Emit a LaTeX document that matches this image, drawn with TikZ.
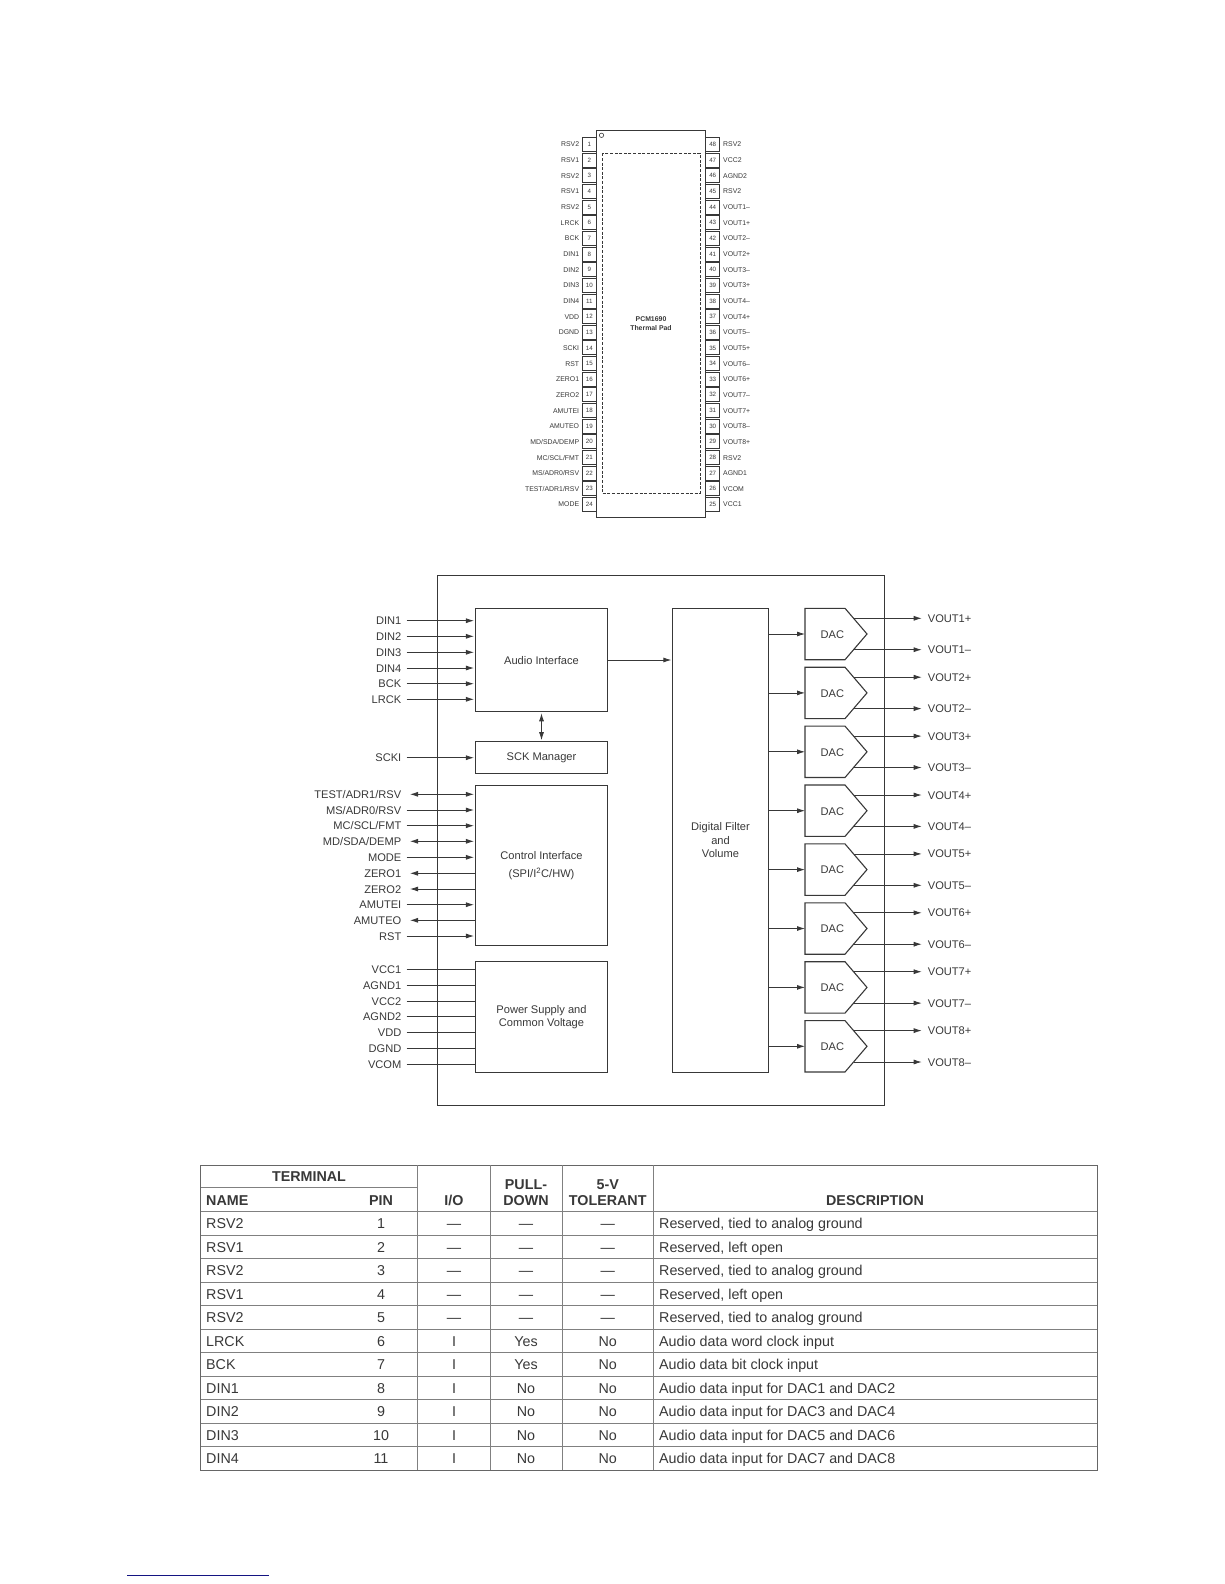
\documentclass[tikz,border=0pt]{standalone}
\usepackage{fontspec}
\setmainfont{Liberation Sans}
\usetikzlibrary{calc,arrows.meta}
\definecolor{ink}{gray}{0.22}
\definecolor{rule}{gray}{0.5}
\definecolor{ruledark}{gray}{0.4}
\newcommand{\fsChip}{\fontsize{6.9}{8}\selectfont}
\newcommand{\fsNum}{\fontsize{6.2}{8}\selectfont}
\newcommand{\fsBlk}{\fontsize{11.1}{13.5}\selectfont}
\newcommand{\fsTab}{\fontsize{14.3}{16}\selectfont}
\tikzset{
  every node/.style={text=ink},
  chipl/.style={inner sep=0pt,font=\fsChip,text height=5pt,text depth=0pt},
  pinbox/.style={draw=ink,line width=0.8pt,minimum width=14pt,minimum height=14pt,inner sep=0pt,font=\fsNum},
  blk/.style={draw=ink,line width=1.1pt,inner sep=0pt,align=center,font=\fsBlk},
  blkt/.style={inner sep=0pt,align=center,font=\fsBlk},
  sigl/.style={inner sep=0pt,font=\fsBlk,text height=8pt,text depth=0pt},
  sigin/.style={draw=ink,line width=0.8pt,-{Latex[length=8pt,width=5pt]},shorten >=0.8pt},
  sigout/.style={draw=ink,line width=0.8pt,{Latex[length=8pt,width=5pt]}-,shorten <=3.3pt},
  sigbi/.style={draw=ink,line width=0.8pt,{Latex[length=8pt,width=5pt]}-{Latex[length=8pt,width=5pt]},shorten <=3.3pt,shorten >=0.8pt},
  sigplain/.style={draw=ink,line width=0.8pt},
  tabt/.style={inner sep=0pt,font=\fsTab,anchor=base},
  tabl/.style={inner sep=0pt,font=\fsTab,anchor=base west},
  tabh/.style={inner sep=0pt,font=\fsTab\bfseries,anchor=base},
  tabhl/.style={inner sep=0pt,font=\fsTab\bfseries,anchor=base west},
  tabline/.style={draw=rule,line width=0.9pt}
}
\begin{document}
\begin{tikzpicture}[x=1pt,y=-1pt]
\useasboundingbox (0,0) rectangle (1224,1584);
% ---------- package drawing
\node[draw=ink,line width=0.9pt,minimum width=109.4pt,minimum height=387pt,inner sep=0pt] (chip) at (651,323.8) {};
\draw[ink,line width=0.6pt] (601.5,135.3) circle (2.2pt);
\draw[ink,line width=0.7pt,dashed,dash pattern=on 3pt off 1.6pt] (602.3,153.3) rectangle (700,493.3);
\node[inner sep=0pt,font=\fontsize{6.9}{9}\selectfont\bfseries,align=center] (pad) at (651,324) {PCM1690\\Thermal Pad};
\foreach \n/\t in {1/RSV2,2/RSV1,3/RSV2,4/RSV1,5/RSV2,6/LRCK,7/BCK,8/DIN1,9/DIN2,10/DIN3,11/DIN4,12/VDD,13/DGND,14/SCKI,15/RST,16/ZERO1,17/ZERO2,18/AMUTEI,19/AMUTEO,20/{MD/SDA/DEMP},21/{MC/SCL/FMT},22/{MS/ADR0/RSV},23/{TEST/ADR1/RSV},24/MODE}{
  \pgfmathsetmacro{\yy}{144.3+15.66*(\n-1)}
  \node[pinbox] (pin\n) at (589.3,\yy) {\n};
  \node[chipl,anchor=east] (pinl\n) at (579.3,\yy) {\t};
}
\foreach \n/\t in {48/RSV2,47/VCC2,46/AGND2,45/RSV2,44/VOUT1–,43/VOUT1+,42/VOUT2–,41/VOUT2+,40/VOUT3–,39/VOUT3+,38/VOUT4–,37/VOUT4+,36/VOUT5–,35/VOUT5+,34/VOUT6–,33/VOUT6+,32/VOUT7–,31/VOUT7+,30/VOUT8–,29/VOUT8+,28/RSV2,27/AGND1,26/VCOM,25/VCC1}{
  \pgfmathsetmacro{\yy}{144.3+15.66*(48-\n)}
  \node[pinbox] (pin\n) at (712.7,\yy) {\n};
  \node[chipl,anchor=west] (pinl\n) at (723,\yy) {\t};
}
% ---------- block diagram
\node[draw=ink,line width=1.1pt,minimum width=447.4pt,minimum height=530pt,inner sep=0pt] (outer) at (661,840.3) {};
\node[blk,minimum width=132.4pt,minimum height=103.4pt] (audio) at (541.5,660) {};
\node[blkt] (audiot) at (541.5,661) {Audio Interface};
\node[blk,minimum width=132.4pt,minimum height=31.6pt] (sck) at (541.5,757.5) {};
\node[blkt] (sckt) at (541.5,757.5) {SCK Manager};
\node[blk,minimum width=132.4pt,minimum height=160.4pt] (ctrl) at (541.5,865.5) {};
\node[blkt] (ctrlt) at (541.5,865.5) {Control Interface\\[5pt](SPI/I\textsuperscript{2}C/HW)};
\node[blk,minimum width=95.6pt,minimum height=464pt] (filter) at (720.5,840.3) {};
\node[blkt] (filtert) at (720.5,840.3) {Digital Filter\\and\\Volume};
\node[blk,minimum width=132.4pt,minimum height=110.6pt] (power) at (541.5,1017) {Power Supply and\\Common Voltage};
\draw[sigbi,shorten <=1pt,shorten >=1pt] (audio.south) -- (sck.north);
\draw[sigin] (audio.east |- 0,660) -- (filter.west |- 0,660);
\foreach \n/\t/\y/\k/\b in {1/DIN1/620.7/sigin/audio,2/DIN2/636.3/sigin/audio,3/DIN3/652.3/sigin/audio,4/DIN4/668/sigin/audio,5/BCK/683.7/sigin/audio,6/LRCK/699.3/sigin/audio,
 7/SCKI/757.7/sigin/sck,
 8/{TEST/ADR1/RSV}/794.3/sigbi/ctrl,9/{MS/ADR0/RSV}/810/sigin/ctrl,10/{MC/SCL/FMT}/825.7/sigin/ctrl,11/{MD/SDA/DEMP}/841.3/sigbi/ctrl,12/MODE/857.3/sigin/ctrl,13/ZERO1/873.3/sigout/ctrl,14/ZERO2/889/sigout/ctrl,15/AMUTEI/904.7/sigin/ctrl,16/AMUTEO/920.3/sigout/ctrl,17/RST/936/sigin/ctrl,
 18/VCC1/969/sigplain/power,19/AGND1/985/sigplain/power,20/VCC2/1001/sigplain/power,21/AGND2/1016.7/sigplain/power,22/VDD/1032.7/sigplain/power,23/DGND/1048.3/sigplain/power,24/VCOM/1064/sigplain/power}{
  \node[sigl,anchor=east] (sig\n) at (401.5,\y) {\t};
  \draw[\k] ($(sig\n.east)+(5.2,0)$) -- (sig\n.east -| \b.west);
}
\foreach \i in {1,...,8}{
  \pgfmathsetmacro{\cy}{634+58.9*(\i-1)}
  \pgfmathsetmacro{\ct}{\cy-25.7}
  \pgfmathsetmacro{\cb}{\cy+25.7}
  \pgfmathsetmacro{\cp}{\cy-15.7}
  \pgfmathsetmacro{\cm}{\cy+15.7}
  \node[inner sep=0pt,font=\fsBlk] (dac\i) at (832.3,\cy+0.5) {DAC};
  \draw[ink,line width=1.1pt,line join=miter] (805,\ct) -- (845,\ct) -- (867,\cy) -- (845,\cb) -- (805,\cb) -- cycle;
  \coordinate (dacw\i) at (805,\cy);
  \coordinate (dacp\i) at (853.8,\cp);
  \coordinate (dacm\i) at (853.8,\cm);
  \node[sigl,anchor=west] (vp\i) at (927.7,\cp) {VOUT\i+};
  \node[sigl,anchor=west] (vm\i) at (927.7,\cm) {VOUT\i–};
  \draw[sigin,shorten >=0pt] (filter.east |- dacw\i) -- (dacw\i);
  \draw[sigin,shorten >=0pt] (dacp\i) -- ($(vp\i.west)+(-6,0)$);
  \draw[sigin,shorten >=0pt] (dacm\i) -- ($(vm\i.west)+(-6,0)$);
}
% ---------- table
\draw[draw=ruledark,line width=1pt] (200.7,1165) rectangle (1097.3,1470);
\draw[tabline] (200.7,1187.7) -- (417.3,1187.7);
\foreach \x in {417.3,490,562.7,653.3}{ \draw[tabline] (\x,1165) -- (\x,1470); }
\draw[tabline] (200.7,1211.7) -- (1097.3,1211.7);
\foreach \i in {1,...,10}{
  \pgfmathsetmacro{\ry}{1211.7+23.48*\i}
  \draw[tabline] (200.7,\ry) -- (1097.3,\ry);
}
\node[tabh] (hterm) at (309,1181.5) {TERMINAL};
\node[tabhl] (hname) at (206,1205) {NAME};
\node[tabh] (hpin) at (381,1205) {PIN};
\node[tabh] (hio) at (454,1205) {I/O};
\node[tabh] (hpu) at (526,1189) {PULL-};
\node[tabh] (hpd) at (526,1205) {DOWN};
\node[tabh] (h5v) at (607.7,1189) {5-V};
\node[tabh] (htol) at (607.7,1205) {TOLERANT};
\node[tabh] (hdesc) at (875,1205) {DESCRIPTION};
\foreach \i/\a/\b/\c/\d/\e/\f in {
 1/RSV2/1/—/—/—/{Reserved, tied to analog ground},
 2/RSV1/2/—/—/—/{Reserved, left open},
 3/RSV2/3/—/—/—/{Reserved, tied to analog ground},
 4/RSV1/4/—/—/—/{Reserved, left open},
 5/RSV2/5/—/—/—/{Reserved, tied to analog ground},
 6/LRCK/6/I/Yes/No/{Audio data word clock input},
 7/BCK/7/I/Yes/No/{Audio data bit clock input},
 8/DIN1/8/I/No/No/{Audio data input for DAC1 and DAC2},
 9/DIN2/9/I/No/No/{Audio data input for DAC3 and DAC4},
 10/DIN3/10/I/No/No/{Audio data input for DAC5 and DAC6},
 11/DIN4/11/I/No/No/{Audio data input for DAC7 and DAC8}}{
  \pgfmathsetmacro{\by}{1211.7+23.48*(\i-0.5)+5.4}
  \node[tabl] (ra\i) at (206,\by) {\a};
  \node[tabt] (rb\i) at (381,\by) {\b};
  \node[tabt] (rc\i) at (454,\by) {\c};
  \node[tabt] (rd\i) at (526,\by) {\d};
  \node[tabt] (re\i) at (607.7,\by) {\e};
  \node[tabl] (rf\i) at (659,\by) {\f};
}
% ---------- footnote rule
\draw[draw={rgb,255:red,20;green,20;blue,130},line width=1pt] (127,1575.3) -- (269,1575.3);
\end{tikzpicture}
\end{document}
